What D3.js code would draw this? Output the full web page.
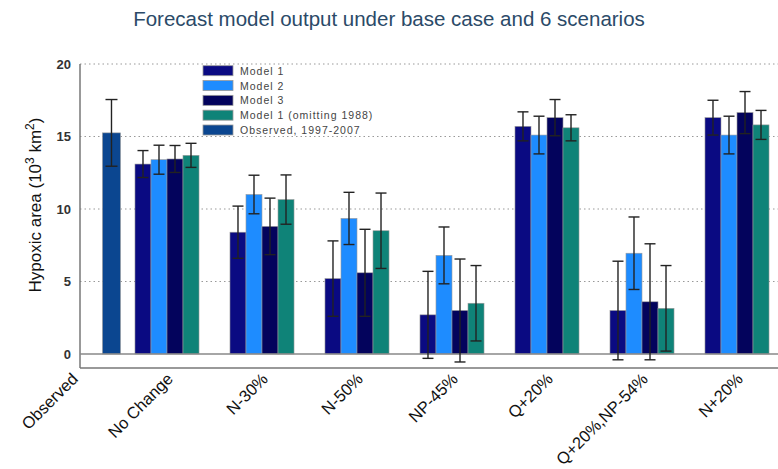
<!DOCTYPE html>
<html><head><meta charset="utf-8">
<script src="https://cdn.jsdelivr.net/npm/d3@7"></script>
<style>body{margin:0;background:#fff}svg{display:block}text{font-family:"Liberation Sans",Arial,sans-serif}</style>
</head><body>
<svg id="c" width="778" height="469"></svg>
<script>
const categories = ["Observed","No Change","N-30%","N-50%","NP-45%","Q+20%","Q+20%,NP-54%","N+20%"];
const scenarios = ["No Change","N-30%","N-50%","NP-45%","Q+20%","Q+20%,NP-54%","N+20%"];
const models = ["Model 1","Model 2","Model 3","Model 1 (omitting 1988)"];
const model1 = [13.1, 8.4, 5.2, 2.7, 15.7, 3.0, 16.3];
const model1Err = [0.93, 1.8, 2.6, 3.0, 1.0, 3.4, 1.2];
const model2 = [13.4, 11.0, 9.35, 6.8, 15.1, 6.95, 15.1];
const model2Err = [1.0, 1.33, 1.8, 1.96, 1.3, 2.5, 1.3];
const model3 = [13.45, 8.8, 5.6, 3.0, 16.3, 3.6, 16.65];
const model3Err = [0.93, 1.95, 3.0, 3.55, 1.25, 4.0, 1.45];
const model1Omit = [13.7, 10.65, 8.5, 3.5, 15.6, 3.15, 15.8];
const model1OmitErr = [0.83, 1.7, 2.6, 2.6, 0.9, 2.95, 1.0];
const observedLabel = "Observed, 1997-2007";
const observedValue = [15.25];
const observedErr = [2.3];
const yTicks = [0, 5, 10, 15, 20];

const colors = {"Model 1":"#0a0a82","Model 2":"#1e8cff","Model 3":"#03035c","Model 1 (omitting 1988)":"#0f8378"};
const obsColor = "#0b4690";

const svg = d3.select("#c");
const L = 80, R = 778, B = 368;
const y = d3.scaleLinear().domain([0, 20]).range([354, 64]);
const x0 = d3.scaleBand().domain(scenarios).range([119.5, 784.5]).paddingInner(0.326).paddingOuter(0.163);
const x1 = d3.scaleBand().domain(models).range([0, x0.bandwidth()]);
const xl = d3.scalePoint().domain(categories).range([72, 737]);

// title
svg.append("text").attr("x", 389).attr("y", 26).attr("text-anchor","middle")
  .attr("font-size", 20.5).attr("fill", "#2b4a68").text("Forecast model output under base case and 6 scenarios");

// gridlines
svg.append("g").selectAll("line").data(yTicks.filter(d => d > 0)).join("line")
  .attr("x1", L).attr("x2", R).attr("y1", d => y(d)).attr("y2", d => y(d))
  .attr("stroke", "#999").attr("stroke-width", 1).attr("stroke-dasharray", "1.5,3");

// frame
svg.append("line").attr("x1", L).attr("x2", L).attr("y1", 64).attr("y2", B).attr("stroke", "#777").attr("stroke-width", 1.5);
svg.append("line").attr("x1", L).attr("x2", R).attr("y1", B).attr("y2", B).attr("stroke", "#777").attr("stroke-width", 1.5);

// y tick labels
const yAxis = d3.axisLeft(y).tickValues(yTicks).tickSize(0).tickPadding(9);
const ya = svg.append("g").attr("transform", `translate(${L},0)`).call(yAxis);
ya.select(".domain").remove();
ya.selectAll("text").attr("font-size", 13).attr("font-weight", "bold").attr("fill", "#333")
  .style("font-family", '"Liberation Sans",Arial,sans-serif');

// y axis title
const yt = svg.append("text").attr("transform", "translate(41,205) rotate(-90)").attr("text-anchor","middle")
  .attr("font-size", 17).attr("fill", "#111");
yt.append("tspan").text("Hypoxic area (10");
yt.append("tspan").attr("baseline-shift","super").attr("font-size", 12).text("3");
yt.append("tspan").text(" km");
yt.append("tspan").attr("baseline-shift","super").attr("font-size", 12).text("2");
yt.append("tspan").text(")");

// data table
const series = [model1, model2, model3, model1Omit];
const errs = [model1Err, model2Err, model3Err, model1OmitErr];
const rows = [];
scenarios.forEach((s, i) => models.forEach((m, j) => rows.push({s, m, v: series[j][i], e: errs[j][i]})));

const bw = x1.bandwidth();
const g = svg.append("g");
g.selectAll("rect.m").data(rows).join("rect").attr("class","m")
  .attr("x", d => x0(d.s) + x1(d.m)).attr("width", bw)
  .attr("y", d => y(d.v)).attr("height", d => y(0) - y(d.v))
  .attr("fill", d => colors[d.m]).attr("stroke", "#9a9a9a").attr("stroke-width", 0.6);

// observed bar
const obsW = 18;
const obsX = x0("No Change") - 14.5 - obsW;
g.append("rect").attr("x", obsX).attr("width", obsW)
  .attr("y", y(observedValue[0])).attr("height", y(0) - y(observedValue[0]))
  .attr("fill", obsColor).attr("stroke", "#9a9a9a").attr("stroke-width", 0.6);

// zero line
svg.append("line").attr("x1", L).attr("x2", R).attr("y1", y(0)).attr("y2", y(0)).attr("stroke", "#888").attr("stroke-width", 1.3);

// error bars
const eb = rows.map(d => ({cx: x0(d.s) + x1(d.m) + bw/2, v: d.v, e: d.e, cap: 5.5}));
eb.push({cx: obsX + obsW/2, v: observedValue[0], e: observedErr[0], cap: 6});
const eg = svg.append("g").attr("stroke", "#222").attr("stroke-width", 1.4);
eg.selectAll("line.v").data(eb).join("line").attr("class","v")
  .attr("x1", d => d.cx).attr("x2", d => d.cx).attr("y1", d => y(d.v + d.e)).attr("y2", d => y(d.v - d.e));
eg.selectAll("line.t").data(eb).join("line").attr("class","t")
  .attr("x1", d => d.cx - d.cap).attr("x2", d => d.cx + d.cap).attr("y1", d => y(d.v + d.e)).attr("y2", d => y(d.v + d.e));
eg.selectAll("line.b").data(eb).join("line").attr("class","b")
  .attr("x1", d => d.cx - d.cap).attr("x2", d => d.cx + d.cap).attr("y1", d => y(d.v - d.e)).attr("y2", d => y(d.v - d.e));

// x labels
svg.append("g").selectAll("text").data(categories).join("text")
  .attr("transform", d => `translate(${xl(d) + 7},380) rotate(-45)`)
  .attr("text-anchor", "end").attr("font-size", 16.5)
  .attr("fill", "#111").text(d => d);

// legend
const legItems = models.map(m => ({label: m, color: colors[m]})).concat([{label: observedLabel, color: obsColor}]);
const ly = d3.scalePoint().domain(d3.range(legItems.length)).range([70.7, 130]);
const lg = svg.append("g").selectAll("g").data(legItems).join("g")
  .attr("transform", (d, i) => `translate(203,${ly(i)})`);
lg.append("rect").attr("x", 0).attr("y", -5).attr("width", 30).attr("height", 10)
  .attr("fill", d => d.color).attr("stroke", "#999").attr("stroke-width", 0.8);
lg.append("text").attr("x", 37).attr("y", 4).attr("font-size", 10.5).attr("letter-spacing", 1)
  .attr("fill", "#444").text(d => d.label);
</script>
</body></html>
